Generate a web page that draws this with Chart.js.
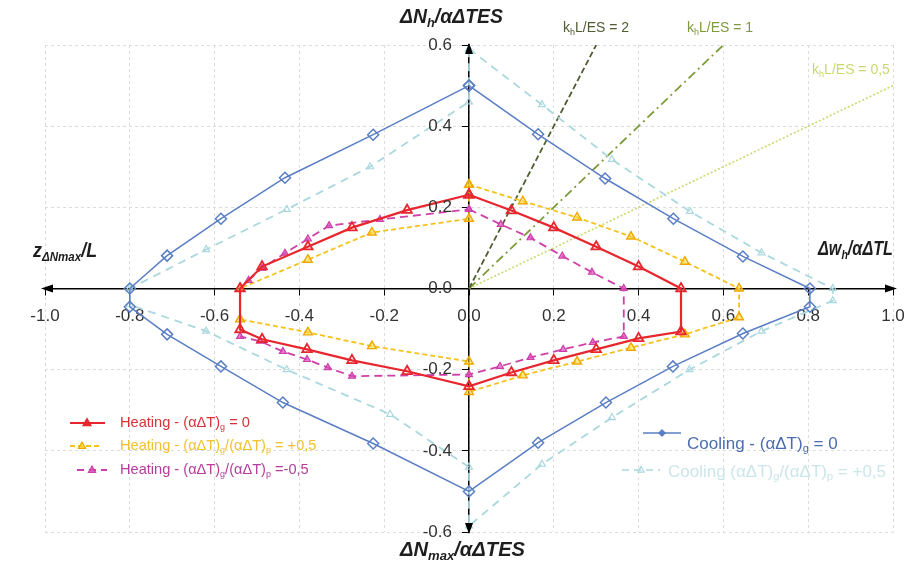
<!DOCTYPE html>
<html>
<head>
<meta charset="utf-8">
<script src="https://cdn.jsdelivr.net/npm/chart.js@4/dist/chart.umd.min.js"></script>
<style>
html,body{margin:0;padding:0;background:#fff;}
#wrap{width:911px;height:567px;position:relative;}
</style>
</head>
<body>
<div id="wrap"><canvas id="c" width="911" height="567"></canvas></div>
<script>
// ---- tick labels ----
const xTickVals = [-1.0,-0.8,-0.6,-0.4,-0.2,0.0,0.2,0.4,0.6,0.8,1.0];
const yTickVals = [-0.6,-0.4,-0.2,0.0,0.2,0.4,0.6];

// ---- series (x, y) ----
const heatingZero = [[0,0.231],[0.1,0.192],[0.2,0.15],[0.3,0.103],[0.4,0.054],[0.5,0],[0.5,-0.106],[0.4,-0.123],[0.3,-0.15],[0.2,-0.177],[0.1,-0.207],[0,-0.241],[-0.146,-0.204],[-0.276,-0.177],[-0.382,-0.15],[-0.488,-0.125],[-0.54,-0.101],[-0.54,0],[-0.488,0.054],[-0.38,0.103],[-0.276,0.15],[-0.146,0.193],[0,0.231]];
const heatingPlus = [[0,0.256],[0.127,0.215],[0.255,0.175],[0.382,0.128],[0.509,0.066],[0.637,0],[0.637,-0.071],[0.509,-0.113],[0.382,-0.146],[0.255,-0.18],[0.127,-0.214],[0,-0.255],[0,-0.18],[-0.229,-0.142],[-0.38,-0.108],[-0.54,-0.076],[-0.54,0],[-0.38,0.071],[-0.229,0.138],[0,0.172],[0,0.256]];
const heatingMinus = [[0,0.195],[0.075,0.158],[0.145,0.125],[0.22,0.08],[0.29,0.04],[0.365,0],[0.365,-0.118],[0.292,-0.133],[0.222,-0.15],[0.145,-0.17],[0.073,-0.192],[0,-0.212],[-0.276,-0.216],[-0.333,-0.195],[-0.382,-0.175],[-0.439,-0.155],[-0.493,-0.13],[-0.54,-0.118],null,[-0.52,0.02],[-0.488,0.05],[-0.434,0.087],[-0.38,0.122],[-0.33,0.155],[-0.21,0.17],[0,0.195]];
const coolingZero = [[0,0.5],[0.163,0.38],[0.321,0.271],[0.482,0.172],[0.646,0.079],[0.804,0],[0.804,-0.045],[0.646,-0.111],[0.481,-0.192],[0.323,-0.281],[0.163,-0.38],[0,-0.5],[-0.226,-0.382],[-0.439,-0.281],[-0.585,-0.192],[-0.712,-0.113],[-0.8,-0.045],[-0.8,0],[-0.712,0.081],[-0.585,0.172],[-0.434,0.273],[-0.226,0.379],[0,0.5]];
const coolingPlus = [[0,0.59],[0.172,0.453],[0.337,0.318],[0.521,0.19],[0.69,0.088],[0.858,0],[0.858,-0.03],[0.69,-0.105],[0.52,-0.2],[0.337,-0.318],[0.172,-0.433],[0,-0.585],[0,-0.44],[-0.186,-0.31],[-0.43,-0.2],[-0.62,-0.105],[-0.8,-0.04],[-0.8,0],[-0.62,0.096],[-0.43,0.195],[-0.233,0.30],[0,0.46],[0,0.59]];
const stiff2 = [[0,0],[0.3,0.6]];
const stiff1 = [[0,0],[0.6,0.6]];
const stiffHalf = [[0,0],[1.0,0.5]];

const toXY = arr => arr.map(p => p ? {x:p[0], y:p[1]} : {x:NaN, y:NaN});

const C = {
  red:'#E8262E', yellow:'#F5C21B', magenta:'#CF3FA8', blue:'#5A7EC4', cyan:'#A9D8DE',
  k2:'#4F5E30', k1:'#7E9A3A', kh:'#C9D96E'
};

function ds(data, color, opts){
  return Object.assign({
    data: toXY(data), showLine:true, borderColor:color, backgroundColor:color,
    pointBorderColor:color, borderWidth:1.8, pointRadius:0, fill:false, tension:0
  }, opts);
}

const datasets = [
  ds(heatingZero, C.red, {borderWidth:2.2, pointStyle:'triangle', pointRadius:5.5, pointBorderWidth:1.8, pointBackgroundColor:'rgba(255,255,255,0)'}),
  ds(heatingMinus, C.magenta, {borderDash:[8,5], pointStyle:'triangle', pointRadius:4, pointBorderWidth:1.2, pointBackgroundColor:'rgba(220,80,190,0.7)'}),
  ds(heatingPlus, C.yellow, {borderDash:[5,3], pointStyle:'triangle', pointRadius:5, pointBorderWidth:1.4, pointBorderColor:'#F0A800', pointBackgroundColor:'rgba(250,215,50,0.55)'}),
  ds(coolingZero, C.blue, {borderWidth:1.5, pointStyle:'rectRot', pointRadius:5.5, pointBorderWidth:1.5, pointBackgroundColor:'rgba(255,255,255,0)'}),
  ds(coolingPlus, C.cyan, {borderDash:[8,6], pointStyle:'triangle', pointRadius:4, pointBorderWidth:1.2, pointBackgroundColor:'rgba(255,255,255,0)'}),
  ds(stiff2, C.k2, {borderDash:[6,3], borderWidth:1.8}),
  ds(stiff1, C.k1, {borderDash:[9,4,2,4], borderWidth:1.8}),
  ds(stiffHalf, C.kh, {borderDash:[2,2], borderWidth:1.6})
];

// rich text with _{sub}
function richParts(s){
  const out=[]; const re=/_\{([^}]*)\}/g; let last=0,m;
  while((m=re.exec(s))){ if(m.index>last) out.push({t:s.slice(last,m.index)}); out.push({t:m[1],sub:true}); last=re.lastIndex; }
  if(last<s.length) out.push({t:s.slice(last)});
  return out;
}
function drawRich(ctx, s, x, y, size, color, style, family, align, targetW, subRatio){
  const sr = subRatio || 0.62;
  const parts = richParts(s);
  const f = (sub)=> `${style} ${sub?Math.round(size*sr):size}px ${family}`;
  let w=0; parts.forEach(p=>{ctx.font=f(p.sub); p.w=ctx.measureText(p.t).width; w+=p.w;});
  const sx = targetW ? targetW/w : 1;
  const W = w*sx;
  let start = align==='center'? x-W/2 : align==='right'? x-W : x;
  ctx.save();
  ctx.translate(start, 0); ctx.scale(sx, 1);
  ctx.fillStyle=color; ctx.textBaseline='middle'; ctx.textAlign='left';
  let cx=0;
  parts.forEach(p=>{ctx.font=f(p.sub); ctx.fillText(p.t, cx, p.sub? y+size*0.3 : y); cx+=p.w;});
  ctx.restore();
}
function tri(ctx,x,y,r,fill,stroke){
  ctx.beginPath(); ctx.moveTo(x,y-r); ctx.lineTo(x+r*0.9,y+r*0.6); ctx.lineTo(x-r*0.9,y+r*0.6); ctx.closePath();
  if(fill){ctx.fillStyle=fill;ctx.fill();} if(stroke){ctx.strokeStyle=stroke;ctx.lineWidth=1.2;ctx.stroke();}
}
function sample(ctx,x1,x2,y,color,dash,w){
  ctx.save(); ctx.strokeStyle=color; ctx.lineWidth=w; ctx.setLineDash(dash); ctx.beginPath(); ctx.moveTo(x1,y); ctx.lineTo(x2,y); ctx.stroke(); ctx.restore();
}

const fam='"Liberation Sans", Arial, sans-serif';

const decor = {
  id:'decor',
  afterDatasetsDraw(chart){
    const ctx=chart.ctx, a=chart.chartArea, xs=chart.scales.x, ys=chart.scales.y;
    const x0=xs.getPixelForValue(0), y0=ys.getPixelForValue(0);
    ctx.save();
    // y tick labels (left of the centred axis)
    ctx.font=`17px ${fam}`; ctx.fillStyle='#333'; ctx.textAlign='right'; ctx.textBaseline='middle';
    ys.ticks.forEach(t=>{ ctx.fillText(Number(t.value).toFixed(1), x0-17, ys.getPixelForValue(t.value)); });
    // arrowheads
    ctx.fillStyle='#000';
    const ah=(pts)=>{ctx.beginPath();ctx.moveTo(...pts[0]);ctx.lineTo(...pts[1]);ctx.lineTo(...pts[2]);ctx.closePath();ctx.fill();};
    ah([[a.left-4,y0],[a.left+8,y0-4],[a.left+8,y0+4]]);
    ah([[a.right+4,y0],[a.right-8,y0-4],[a.right-8,y0+4]]);
    ah([[x0,a.top-2],[x0-4,a.top+9],[x0+4,a.top+9]]);
    ah([[x0,a.bottom+2],[x0-4,a.bottom-9],[x0+4,a.bottom-9]]);
    // axis titles
    drawRich(ctx,'ΔN_{h}/αΔTES', 400, 17, 20, '#1e1e1e','italic bold',fam,'left',103,0.65);
    drawRich(ctx,'ΔN_{max}/αΔTES', 400, 550, 20, '#1e1e1e','italic bold',fam,'left',125,0.65);
    drawRich(ctx,'z_{ΔNmax}/L', 33, 251, 20, '#1e1e1e','italic bold',fam,'left',64,0.65);
    drawRich(ctx,'Δw_{h}/αΔTL', 818, 249, 20, '#1e1e1e','italic bold',fam,'left',75,0.65);
    // stiffness labels
    drawRich(ctx,'k_{h}L/ES = 2', 596, 28, 14, C.k2,'',fam,'center');
    drawRich(ctx,'k_{h}L/ES = 1', 720, 28, 14, C.k1,'',fam,'center');
    drawRich(ctx,'k_{h}L/ES = 0,5', 851, 70, 14, C.kh,'',fam,'center');
    // left legend
    sample(ctx,70,105,423,C.red,[],2.2); tri(ctx,87,423,4.5,C.red,C.red);
    drawRich(ctx,'Heating - (αΔT)_{g} = 0',120,423,14.6,'#D8323A','',fam,'left');
    sample(ctx,70,100,446,C.yellow,[5,3],1.8); tri(ctx,82,446,4,'rgba(250,215,50,0.8)','#F0A800');
    drawRich(ctx,'Heating - (αΔT)_{g}/(αΔT)_{p} = +0,5',120,446,14.6,'#F2C12E','',fam,'left');
    sample(ctx,77,107,470,C.magenta,[7,5],1.8); tri(ctx,92,470,4,'rgba(220,80,190,0.8)',C.magenta);
    drawRich(ctx,'Heating - (αΔT)_{g}/(αΔT)_{p} =-0,5',120,470,14.6,'#B63C9C','',fam,'left');
    // right legend
    sample(ctx,643,681,433,C.blue,[],1.5);
    ctx.fillStyle=C.blue; ctx.beginPath(); ctx.moveTo(662,429); ctx.lineTo(666,433); ctx.lineTo(662,437); ctx.lineTo(658,433); ctx.closePath(); ctx.fill();
    drawRich(ctx,'Cooling - (αΔT)_{g} = 0',687,444,17,'#4D6CAE','',fam,'left');
    sample(ctx,622,660,470,C.cyan,[7,5],1.6); tri(ctx,641,470,3.5,null,C.cyan);
    drawRich(ctx,'Cooling (αΔT)_{g}/(αΔT)_{p} = +0,5',668,472,17,'#CBE6EA','',fam,'left');
    ctx.restore();
  }
};

const tickFont = {family:fam, size:17};

new Chart(document.getElementById('c'), {
  type:'scatter',
  data:{datasets},
  options:{
    responsive:false, animation:false, devicePixelRatio:1,
    layout:{padding:{left:45,right:18,top:45,bottom:35}},
    plugins:{legend:{display:false}, tooltip:{enabled:false}},
    scales:{
      x:{
        type:'linear', min:-1, max:1, position:{y:0},
        afterBuildTicks:s=>{s.ticks=xTickVals.map(v=>({value:v}));},
        afterFit:s=>{s.paddingLeft=0; s.paddingRight=0; s.paddingTop=0; s.paddingBottom=0;},
        ticks:{autoSkip:false, maxRotation:0, padding:12, color:'#333', font:tickFont, callback:v=>Number(v).toFixed(1)},
        grid:{color:'#dddddd', tickColor:'#000', tickLength:6, lineWidth:1},
        border:{color:'#000', width:1.5, dash:[3,3]}
      },
      y:{
        type:'linear', min:-0.6, max:0.6, position:{x:0},
        afterBuildTicks:s=>{s.ticks=yTickVals.map(v=>({value:v}));},
        afterFit:s=>{s.paddingLeft=0; s.paddingRight=0; s.paddingTop=0; s.paddingBottom=0;},
        ticks:{display:false, autoSkip:false},
        grid:{color:'#dddddd', tickColor:'#000', tickLength:6, lineWidth:1},
        border:{color:'#000', width:1.5, dash:[3,3]}
      }
    }
  },
  plugins:[decor]
});
</script>
</body>
</html>
